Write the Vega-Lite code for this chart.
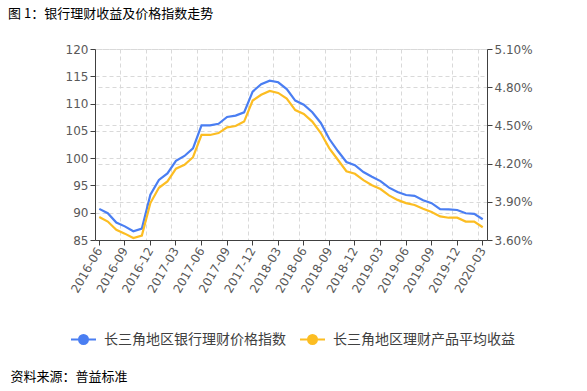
{
  "$schema": "https://vega.github.io/schema/vega-lite/v6.json",
  "width": 392,
  "height": 191,
  "autosize": {"type": "none"},
  "padding": {"left": 95, "top": 49, "right": 100, "bottom": 151},
  "background": "white",
  "title": {
    "text": "图 1：银行理财收益及价格指数走势",
    "anchor": "start",
    "frame": "group",
    "dx": -87,
    "offset": 22,
    "font": "Noto Sans CJK SC",
    "fontSize": 13,
    "fontWeight": "normal",
    "color": "#000000"
  },
  "data": {
    "values": [
      {"month": "2016-06", "idx": 90.7, "yld": 3.78},
      {"month": "2016-07", "idx": 89.9, "yld": 3.745},
      {"month": "2016-08", "idx": 88.2, "yld": 3.68},
      {"month": "2016-09", "idx": 87.5, "yld": 3.65},
      {"month": "2016-10", "idx": 86.6, "yld": 3.615},
      {"month": "2016-11", "idx": 87.1, "yld": 3.635},
      {"month": "2016-12", "idx": 93.3, "yld": 3.89},
      {"month": "2017-01", "idx": 96.0, "yld": 4.01},
      {"month": "2017-02", "idx": 97.2, "yld": 4.06},
      {"month": "2017-03", "idx": 99.5, "yld": 4.16},
      {"month": "2017-04", "idx": 100.4, "yld": 4.19},
      {"month": "2017-05", "idx": 101.8, "yld": 4.25},
      {"month": "2017-06", "idx": 106.0, "yld": 4.425},
      {"month": "2017-07", "idx": 106.0, "yld": 4.425},
      {"month": "2017-08", "idx": 106.3, "yld": 4.44},
      {"month": "2017-09", "idx": 107.55, "yld": 4.485},
      {"month": "2017-10", "idx": 107.8, "yld": 4.495},
      {"month": "2017-11", "idx": 108.4, "yld": 4.53},
      {"month": "2017-12", "idx": 112.2, "yld": 4.695},
      {"month": "2018-01", "idx": 113.55, "yld": 4.74},
      {"month": "2018-02", "idx": 114.2, "yld": 4.77},
      {"month": "2018-03", "idx": 113.9, "yld": 4.755},
      {"month": "2018-04", "idx": 112.65, "yld": 4.71},
      {"month": "2018-05", "idx": 110.55, "yld": 4.62},
      {"month": "2018-06", "idx": 109.8, "yld": 4.59},
      {"month": "2018-07", "idx": 108.4, "yld": 4.53},
      {"month": "2018-08", "idx": 106.45, "yld": 4.44},
      {"month": "2018-09", "idx": 103.5, "yld": 4.32},
      {"month": "2018-10", "idx": 101.3, "yld": 4.23},
      {"month": "2018-11", "idx": 99.3, "yld": 4.14},
      {"month": "2018-12", "idx": 98.7, "yld": 4.12},
      {"month": "2019-01", "idx": 97.45, "yld": 4.07},
      {"month": "2019-02", "idx": 96.6, "yld": 4.03},
      {"month": "2019-03", "idx": 95.8, "yld": 4.0},
      {"month": "2019-04", "idx": 94.6, "yld": 3.95},
      {"month": "2019-05", "idx": 93.8, "yld": 3.915},
      {"month": "2019-06", "idx": 93.25, "yld": 3.89},
      {"month": "2019-07", "idx": 93.1, "yld": 3.875},
      {"month": "2019-08", "idx": 92.3, "yld": 3.845},
      {"month": "2019-09", "idx": 91.75, "yld": 3.82},
      {"month": "2019-10", "idx": 90.65, "yld": 3.785},
      {"month": "2019-11", "idx": 90.6, "yld": 3.775},
      {"month": "2019-12", "idx": 90.5, "yld": 3.775},
      {"month": "2020-01", "idx": 89.9, "yld": 3.745},
      {"month": "2020-02", "idx": 89.8, "yld": 3.745},
      {"month": "2020-03", "idx": 88.8, "yld": 3.70}
    ]
  },
  "layer": [
    {
      "mark": {"type": "line", "strokeWidth": 2.2, "interpolate": "linear"},
      "encoding": {
        "x": {
          "field": "month",
          "type": "ordinal",
          "scale": {"type": "band", "paddingInner": 0, "paddingOuter": 0},
          "axis": {
            "values": ["2016-06","2016-09","2016-12","2017-03","2017-06","2017-09","2017-12","2018-03","2018-06","2018-09","2018-12","2019-03","2019-06","2019-09","2019-12","2020-03"],
            "labelAngle": -60,
            "labelAlign": "right",
            "labelBaseline": "middle",
            "labelFont": "DejaVu Sans",
            "labelFontSize": 12,
            "labelColor": "#595959",
            "labelPadding": 3,
            "tickSize": 5,
            "tickColor": "#404040",
            "domainColor": "#404040",
            "grid": false,
            "title": "资料来源：普益标准",
            "titleFont": "Noto Sans CJK SC",
            "titleFontSize": 13,
            "titleFontWeight": "normal",
            "titleColor": "#000000",
            "titleAnchor": "start",
            "titleAlign": "left",
            "titleBaseline": "middle",
            "titleX": -85,
            "titleY": 136
          }
        },
        "y": {
          "field": "idx",
          "type": "quantitative",
          "scale": {"domain": [85, 120], "nice": false, "zero": false},
          "axis": {
            "values": [85, 90, 95, 100, 105, 110, 115, 120],
            "title": null,
            "labelFont": "DejaVu Sans",
            "labelFontSize": 12,
            "labelColor": "#595959",
            "tickSize": 5,
            "tickColor": "#404040",
            "domainColor": "#404040",
            "grid": true,
            "gridColor": "#d9d9d9",
            "gridDash": [4, 3]
          }
        },
        "color": {
          "datum": "长三角地区银行理财价格指数",
          "type": "nominal",
          "scale": {
            "domain": ["长三角地区银行理财价格指数", "长三角地区理财产品平均收益"],
            "range": ["#4a7ef2", "#fcbd22"]
          },
          "legend": {
            "title": null,
            "orient": "none",
            "legendX": -25,
            "legendY": 277,
            "direction": "horizontal",
            "symbolType": "M-1,0L-0.36,0M0.36,0L1,0M-0.36,0A0.36,0.36,0,1,1,0.36,0A0.36,0.36,0,1,1,-0.36,0Z",
            "symbolSize": 625,
            "symbolStrokeWidth": 2,
            "labelFont": "Noto Sans CJK SC",
            "labelFontSize": 14,
            "labelColor": "#404040",
            "labelOffset": 7,
            "labelLimit": 0,
            "columnPadding": 10,
            "encode": {
              "symbols": {"update": {"fill": {"field": "value", "scale": "color"}, "fillOpacity": {"value": 1}}}
            }
          }
        }
      }
    },
    {
      "mark": {"type": "line", "strokeWidth": 2.2, "interpolate": "linear"},
      "encoding": {
        "x": {
          "field": "month",
          "type": "ordinal",
          "axis": {
            "orient": "bottom",
            "values": ["2016-06","2016-09","2016-12","2017-03","2017-06","2017-09","2017-12","2018-03","2018-06","2018-09","2018-12","2019-03","2019-06","2019-09","2019-12","2020-03"],
            "bandPosition": 0,
            "labels": false,
            "ticks": false,
            "domain": false,
            "title": null,
            "grid": true,
            "gridColor": "#d9d9d9",
            "gridDash": [4, 3],
            "gridOpacity": 1
          }
        },
        "y": {
          "field": "yld",
          "type": "quantitative",
          "scale": {"domain": [3.6, 5.1], "nice": false, "zero": false},
          "axis": {
            "orient": "right",
            "values": [3.6, 3.9, 4.2, 4.5, 4.8, 5.1],
            "labelExpr": "format(datum.value, '.2f') + '%'",
            "title": null,
            "labelFont": "DejaVu Sans",
            "labelFontSize": 12,
            "labelColor": "#595959",
            "tickSize": 5,
            "tickColor": "#404040",
            "domainColor": "#404040",
            "grid": true,
            "gridColor": "#d9d9d9",
            "gridDash": [4, 3]
          }
        },
        "color": {"datum": "长三角地区理财产品平均收益", "type": "nominal"}
      }
    }
  ],
  "resolve": {"scale": {"y": "independent"}, "axis": {"x": "independent"}},
  "config": {"view": {"stroke": null}}
}
